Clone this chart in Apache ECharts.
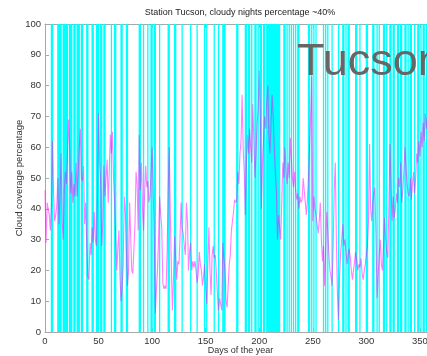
<!DOCTYPE html>
<html>
<head>
<meta charset="utf-8">
<script src="https://cdn.jsdelivr.net/npm/echarts@6/dist/echarts.min.js"></script>
<style>
  html, body { margin: 0; padding: 0; background: #fff; }
  #chart { width: 427px; height: 356px; }
</style>
</head>
<body>
<div id="chart"></div>
<script>
// Days of the year with a cloudy night (drawn as full-height cyan bands)
const cloudyDays = [
  6, 7, 12, 13, 14, 15, 17, 18, 19, 20, 21, 23, 24, 25, 27, 28, 30, 31, 32, 34, 35,
  39, 40, 44, 45, 48, 49, 50, 52, 53, 55, 56, 62, 65, 66, 71, 72, 76, 77,
  88, 89, 92, 96, 99, 100, 102, 103, 107, 115, 116, 121, 122, 128, 136, 142,
  149, 151, 158, 162, 166, 167, 168, 179, 180, 187, 188, 190, 191, 193,
  196, 197, 199, 201, 202, 204, 205,
  207, 208, 209, 210, 211, 212, 213, 214, 215, 216, 217, 218, 219,
  223, 224, 226, 228, 230, 232, 234, 236, 237, 246, 247, 249, 251, 253,
  260, 262, 264, 268, 274, 278, 279, 281, 283, 284, 290, 291, 294,
  300, 301, 306, 307, 310, 312, 316, 317, 319, 322, 323, 325, 326,
  329, 330, 332, 333, 336, 337, 339, 341, 342, 345, 348, 349, 351, 353, 354,
  356, 358, 360, 362, 364
];

// Nightly cloud coverage percentage, day 0 .. 364
const coverage = [
  46, 29, 42, 40, 38, 33, 41, 62, 45, 36,
  38, 41, 50, 35, 44, 58, 36, 30, 46, 52,
  48, 58, 69, 60, 45, 52, 42, 48, 44, 55,
  44, 52, 60, 66, 50, 49, 54, 35, 42, 28,
  18, 17, 29, 25, 34, 29, 39, 30, 28, 45,
  71, 55, 48, 28, 36, 54, 44, 50, 56, 42,
  52, 64, 58, 65, 50, 42, 31, 20, 27, 33,
  18, 10, 14, 22, 44, 39, 26, 15, 20, 42,
  31, 20, 19, 27, 35, 52, 48, 33, 64, 46,
  55, 40, 33, 45, 54, 47, 49, 42, 44, 52,
  60, 46, 31, 6, 14, 20, 30, 44, 38, 34,
  16, 14, 15, 14, 26, 46, 60, 38, 20, 7,
  18, 31, 24, 17, 23, 22, 30, 42, 34, 32,
  28, 25, 42, 36, 20, 26, 29, 20, 23, 21,
  23, 20, 16, 19, 26, 22, 20, 15, 18, 22,
  14, 9, 22, 34, 20, 12, 25, 28, 24, 25,
  19, 12, 7, 11, 9, 7, 29, 24, 20, 10,
  8, 15, 22, 25, 33, 36, 39, 43, 42, 43,
  52, 48, 58, 62, 77, 60, 52, 38, 55, 64,
  58, 66, 60, 55, 74, 62, 50, 58, 68, 72,
  85, 70, 40, 55, 62, 70, 66, 75, 80, 64,
  58, 68, 77, 70, 60, 52, 46, 30, 38, 34,
  30, 42, 55, 50, 60, 52, 48, 55, 50, 63,
  56, 50, 47, 52, 46, 43, 45, 40, 44, 42,
  43, 50, 46, 42, 38, 43, 50, 60, 70, 83,
  36, 44, 40, 38, 35, 32, 36, 42, 30, 23,
  28, 15, 26, 39, 33, 25, 20, 18, 15, 28,
  46, 55, 30, 12, 4, 18, 26, 30, 35, 28,
  30, 26, 22, 25, 27, 24, 20, 17, 20, 23,
  26, 23, 20, 22, 21, 24, 19, 17, 20, 22,
  25, 28, 36, 61, 40, 36, 42, 45, 47, 30,
  11, 18, 25, 30, 22, 20, 28, 37, 30, 26,
  24, 40, 61, 48, 36, 44, 37, 40, 45, 42,
  50, 47, 55, 42, 46, 52, 60, 54, 48, 45,
  44, 50, 43, 48, 52, 45, 50, 58, 55, 62,
  57, 65, 60, 68, 62, 71, 66, 70, 64, 68,
  62, 66, 60, 64, 58
];

const xTicks = { min: 0, max: 365, step: 50 };
const yTicks = { min: 0, max: 100, step: 10 };

const titleText = 'Station Tucson, cloudy nights percentage ~40%';
const stationName = 'Tucson';

// Group consecutive cloudy days into [first, last] runs so each run is one band
const cloudyRuns = [];
cloudyDays.forEach(d => {
  const last = cloudyRuns[cloudyRuns.length - 1];
  if (last && d === last[1] + 1) last[1] = d;
  else cloudyRuns.push([d, d]);
});

const FONT = '"Liberation Sans", Arial, sans-serif';
const chart = echarts.init(document.getElementById('chart'), null, { renderer: 'canvas' });

const frameColor = '#a8a8a8';
const labelColor = '#333';
const bandPad = 0.6; // half-width of a night's band, in days

chart.setOption({
  animation: false,
  backgroundColor: '#fff',
  textStyle: { fontFamily: FONT },
  grid: { left: 45, top: 24, bottom: 24, right: -9, outerBoundsMode: 'none', containLabel: false },
  xAxis: [
    {
      type: 'value',
      min: xTicks.min, max: xTicks.max, interval: xTicks.step,
      name: 'Days of the year',
      nameLocation: 'middle',
      nameGap: 14,
      nameMoveOverlap: false,
      nameTextStyle: { fontSize: 9, color: labelColor, fontFamily: FONT },
      axisLine: { lineStyle: { color: frameColor, width: 1 } },
      axisTick: { inside: true, length: 4, lineStyle: { color: frameColor } },
      axisLabel: { fontSize: 9.5, color: labelColor, margin: 4, showMaxLabel: false, fontFamily: FONT },
      splitLine: { show: false }
    },
    {
      type: 'value', position: 'top',
      min: xTicks.min, max: xTicks.max, interval: xTicks.step,
      axisLine: { lineStyle: { color: frameColor, width: 1 } },
      axisTick: { inside: true, length: 4, lineStyle: { color: frameColor } },
      axisLabel: { show: false },
      splitLine: { show: false }
    }
  ],
  yAxis: {
    type: 'value',
    min: yTicks.min, max: yTicks.max, interval: yTicks.step,
    name: 'Cloud coverage percentage',
    nameLocation: 'middle',
    nameGap: 21,
    nameMoveOverlap: false,
    nameTextStyle: { fontSize: 9.5, color: labelColor, fontFamily: FONT },
    axisLine: { show: true, lineStyle: { color: frameColor, width: 1 } },
    axisTick: { show: true, inside: true, length: 4, lineStyle: { color: frameColor } },
    axisLabel: { fontSize: 9.5, color: labelColor, margin: 4, fontFamily: FONT },
    splitLine: { show: false }
  },
  series: [
    {
      type: 'custom',
      name: 'cloudy',
      clip: true,
      z: 1,
      silent: true,
      data: cloudyRuns,
      renderItem: function (params, api) {
        const a = api.coord([api.value(0) - bandPad, yTicks.max]);
        const b = api.coord([api.value(1) + bandPad, yTicks.min]);
        return {
          type: 'rect',
          shape: { x: a[0], y: a[1], width: b[0] - a[0], height: b[1] - a[1] },
          style: { fill: '#00ffff', stroke: null, lineWidth: 0 },
          emphasisDisabled: true
        };
      }
    },
    {
      type: 'line',
      name: 'coverage',
      z: 3,
      clip: true,
      showSymbol: false,
      symbol: 'none',
      silent: true,
      data: coverage.map((v, i) => [i, v]),
      lineStyle: { color: '#ff00ff', width: 1.1, opacity: 0.5 }
    }
  ],
  graphic: [
    {
      type: 'text', x: 240, y: 13, z: 10,
      style: { text: titleText, font: '9px ' + FONT, fill: '#222', textAlign: 'center', textVerticalAlign: 'middle' }
    },
    {
      type: 'text', left: 297, top: 40, z: 10,
      style: { text: stationName, font: '45px ' + FONT, fill: '#666' }
    }
  ]
});
</script>
</body>
</html>
